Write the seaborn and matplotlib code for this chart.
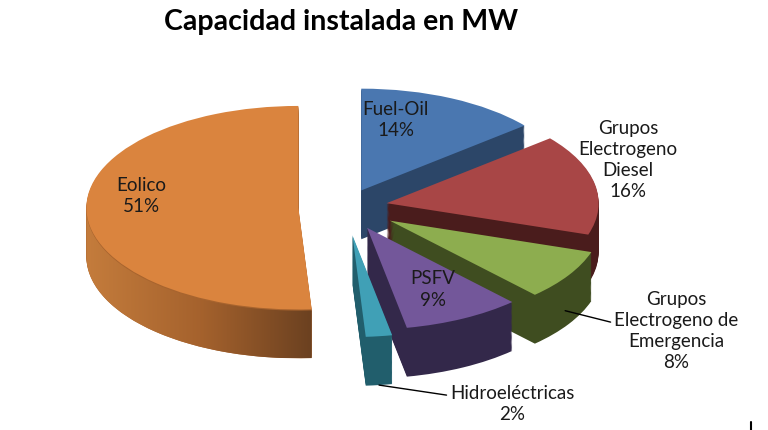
import numpy as np
import matplotlib
matplotlib.use("Agg")
import matplotlib.pyplot as plt
from matplotlib.lines import Line2D
from matplotlib.patches import Polygon
from matplotlib.colors import LinearSegmentedColormap
import seaborn as sns

sns.set_theme(style="white")
plt.rcParams['font.family'] = ['Lato', 'DejaVu Sans']

# data
labels = ['Fuel-Oil', 'Grupos\nElectrogeno\nDiesel', 'Grupos\nElectrogeno de\nEmergencia',
          'PSFV', 'Hidroeléctricas', 'Eolico']
values = [14, 16, 8, 9, 2, 51]
top_colors = ['#4A77B0', '#A84646', '#8DAD4F', '#73579A', '#40A0B6', '#DA843E']
side_colors = ['#2C4668', '#4A1C1C', '#3F4D20', '#33284A', '#215E6C', '#A8642E']
explode = [0.18, 0.2, 0.25, 0.23, 0.28, 0.22]

px_x = 212.0          # pixels per unit along x
squash = 0.48         # tilt of the pie
px_y = px_x * squash
cx, cy = 345, 207     # pie centre in pixels
W, H = 768, 430
thick = 0.48          # side height in y units

fig = plt.figure(figsize=(7.68, 4.30), dpi=100)
ax = fig.add_axes([0, 0, 1, 1])

# mid angles, used to paint back slices first
mids = []
cum = 0
for v in values:
    mids.append(90 - (cum + v / 2) * 3.6)
    cum += v
order = sorted(range(len(values)), key=lambda i: -np.sin(np.radians(mids[i])))

eolico_cmap = LinearSegmentedColormap.from_list('eol', ['#C47C3C', '#A5622D', '#6A4020'])

wedge_info = {}
layers = np.linspace(-thick, 0, 45)
for i in order:
    for k, dz in enumerate(layers):
        last = k == len(layers) - 1
        cols = ['none'] * len(values)
        cols[i] = top_colors[i] if last else side_colors[i]
        w, _ = ax.pie(values, colors=cols, explode=explode, startangle=90,
                      counterclock=False, center=(0, dz),
                      wedgeprops=dict(linewidth=0, antialiased=True))
        if last:
            wedge_info[i] = w[i]
        if i == 5 and k == len(layers) - 2:
            # shaded rim of the big slice
            wb = w[i]
            x0, y0 = wb.center
            depth = dz - layers[0]
            t = np.radians(np.linspace(-180, wb.theta2, 80))
            top = np.c_[x0 + wb.r * np.cos(t), y0 + wb.r * np.sin(t)]
            bot = np.c_[x0 + wb.r * np.cos(t), y0 - depth + wb.r * np.sin(t)][::-1]
            rim = Polygon(np.r_[top, bot], closed=True, facecolor='none', edgecolor='none')
            ax.add_patch(rim)
            img = ax.imshow(np.linspace(0, 1, 200)[None, :], cmap=eolico_cmap,
                            extent=(x0 - wb.r, x0 + 0.08, y0 - wb.r - depth, y0),
                            aspect='auto', zorder=wb.get_zorder(), interpolation='bilinear')
            img.set_clip_path(rim)

ax.set_aspect('auto')
ax.set_xlim(-cx / px_x, (W - cx) / px_x)
ax.set_ylim(-(H - cy) / px_y, cy / px_y)
ax.axis('off')


def on_wedge(i, frac, drop=0.0, dang=0.0):
    w = wedge_info[i]
    a = np.radians((w.theta1 + w.theta2) / 2 + dang)
    x0, y0 = w.center
    return x0 + frac * w.r * np.cos(a), y0 + frac * w.r * np.sin(a) - drop


fs = 13.5
tc = '#1a1a1a'
# labels inside the slices
for i, frac, dang in [(0, 0.71, 12), (3, 0.68, 0), (5, 0.75, -10.6)]:
    x, y = on_wedge(i, frac, 0, dang)
    txt = labels[i] + '\n' + f'{values[i]}%'
    ax.text(x, y, txt, ha='center', va='center', fontsize=fs,
            color=tc, linespacing=1.3)

# labels outside
ax.text((628 - cx) / px_x, (cy - 160) / px_y, labels[1] + '\n' + f'{values[1]}%',
        ha='center', va='center', fontsize=fs, color=tc, linespacing=1.3)
line = dict(arrowstyle='-', color='black', lw=1.0, shrinkA=0, shrinkB=0)
ax.annotate(labels[2] + '\n' + f'{values[2]}%', xy=on_wedge(2, 0.98, thick * 0.75),
            xytext=((676 - cx) / px_x, (cy - 331) / px_y), ha='center', va='center',
            fontsize=fs, color=tc, linespacing=1.3,
            arrowprops=dict(line, relpos=(0.0, 0.6)))
ax.annotate(labels[4] + '\n' + f'{values[4]}%', xy=on_wedge(4, 1.0, thick),
            xytext=((512 - cx) / px_x, (cy - 404) / px_y), ha='center', va='center',
            fontsize=fs, color=tc, linespacing=1.3,
            arrowprops=dict(line, relpos=(0.0, 0.72)))

fig.text(341 / W, 1 - 22 / H, 'Capacidad instalada en MW', ha='center', va='center',
         fontsize=20.5, fontweight='bold', color='black')

# little frame mark at the bottom right corner
fig.add_artist(Line2D([751 / W, 751 / W], [0, 8 / H], color='black', lw=1.5))

fig.savefig('out.png', dpi=100, facecolor='white')
